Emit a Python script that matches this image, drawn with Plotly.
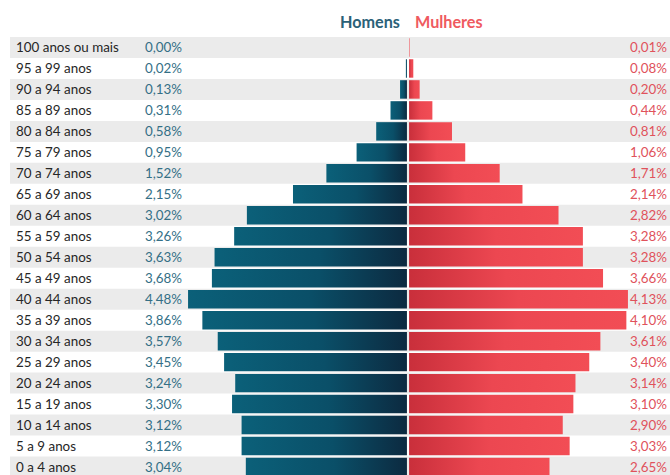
import plotly.graph_objects as go

ages = ["100 anos ou mais", "95 a 99 anos", "90 a 94 anos", "85 a 89 anos", "80 a 84 anos",
        "75 a 79 anos", "70 a 74 anos", "65 a 69 anos", "60 a 64 anos", "55 a 59 anos",
        "50 a 54 anos", "45 a 49 anos", "40 a 44 anos", "35 a 39 anos", "30 a 34 anos",
        "25 a 29 anos", "20 a 24 anos", "15 a 19 anos", "10 a 14 anos", "5 a 9 anos", "0 a 4 anos"]
# bar lengths as drawn in the picture (%)
men = [0.00, 0.02, 0.13, 0.31, 0.58, 0.95, 1.52, 2.15, 3.02, 3.26, 3.63, 3.68, 4.13,
       3.86, 3.57, 3.45, 3.24, 3.30, 3.12, 3.12, 3.04]
women = [0.01, 0.08, 0.20, 0.44, 0.81, 1.06, 1.71, 2.14, 2.82, 3.28, 3.28, 3.66, 4.13,
         4.10, 3.61, 3.40, 3.14, 3.10, 2.90, 3.03, 2.65]
# printed labels
men_labels = ["0,00%", "0,02%", "0,13%", "0,31%", "0,58%", "0,95%", "1,52%", "2,15%", "3,02%",
              "3,26%", "3,63%", "3,68%", "4,48%", "3,86%", "3,57%", "3,45%", "3,24%", "3,30%",
              "3,12%", "3,12%", "3,04%"]
women_labels = ["0,01%", "0,08%", "0,20%", "0,44%", "0,81%", "1,06%", "1,71%", "2,14%", "2,82%",
                "3,28%", "3,28%", "3,66%", "4,13%", "4,10%", "3,61%", "3,40%", "3,14%", "3,10%",
                "2,90%", "3,03%", "2,65%"]

W, H = 670, 475
PX_PER_PCT = 53.0
CENTER_PX = 408
ROW_PX = 21
TOP_PX = 36.5
GAP = 0.02
HALF = 0.44

x_left = -CENTER_PX / PX_PER_PCT
x_right = (W - CENTER_PX) / PX_PER_PCT
y_bottom = -0.5 + (H - TOP_PX) / ROW_PX

FONT = "Lato"
MEN_SCALE = [[0, "#0b6079"], [0.55, "#0a4f68"], [1, "#0c2a40"]]
WOMEN_SCALE = [[0, "#c92f3b"], [0.5, "#ec4751"], [1, "#f24d55"]]

fig = go.Figure()

shapes = []
for i in range(len(ages)):
    if i % 2 == 0:
        shapes.append(dict(type="rect", xref="paper", yref="y", x0=10 / W, x1=1,
                           y0=i - 0.5, y1=i + 0.5, fillcolor="#ebebeb", line_width=0, layer="below"))

for i, (m, w) in enumerate(zip(men, women)):
    if m > 0:
        fig.add_trace(go.Scatter(
            x=[-m - GAP, -GAP, -GAP, -m - GAP, -m - GAP],
            y=[i - HALF, i - HALF, i + HALF, i + HALF, i - HALF],
            mode="lines", line=dict(width=0), fill="toself",
            fillgradient=dict(type="horizontal", colorscale=MEN_SCALE),
            hoverinfo="skip", showlegend=False))
    if w > 0:
        fig.add_trace(go.Scatter(
            x=[GAP, w + GAP, w + GAP, GAP, GAP],
            y=[i - HALF, i - HALF, i + HALF, i + HALF, i - HALF],
            mode="lines", line=dict(width=0), fill="toself",
            fillgradient=dict(type="horizontal", colorscale=WOMEN_SCALE),
            hoverinfo="skip", showlegend=False))

annotations = []
for i, age in enumerate(ages):
    annotations.append(dict(xref="paper", yref="y", x=14 / W, y=i, text=age, showarrow=False,
                            xanchor="left", yanchor="middle",
                            font=dict(family=FONT, size=13.4, color="#262626")))
    annotations.append(dict(xref="paper", yref="y", x=184 / W, y=i, text=men_labels[i],
                            showarrow=False, xanchor="right", yanchor="middle",
                            font=dict(family=FONT, size=13.4, color="#346f86")))
    annotations.append(dict(xref="paper", yref="y", x=669 / W, y=i, text=women_labels[i],
                            showarrow=False, xanchor="right", yanchor="middle",
                            font=dict(family=FONT, size=13.4, color="#e0525b")))

annotations.append(dict(xref="paper", yref="paper", x=402 / W, y=1, yshift=16,
                        text="<b>Homens</b>", showarrow=False, xanchor="right", yanchor="middle",
                        font=dict(family=FONT, size=16.2, color="#2b6178")))
annotations.append(dict(xref="paper", yref="paper", x=413 / W, y=1, yshift=16,
                        text="<b>Mulheres</b>", showarrow=False, xanchor="left", yanchor="middle",
                        font=dict(family=FONT, size=16.2, color="#ef5a60")))

fig.update_layout(
    width=W, height=H,
    margin=dict(l=0, r=0, t=TOP_PX, b=0),
    paper_bgcolor="white", plot_bgcolor="white",
    xaxis=dict(range=[x_left, x_right], visible=False, fixedrange=True),
    yaxis=dict(range=[y_bottom, -0.5], visible=False, fixedrange=True),
    shapes=shapes, annotations=annotations,
    showlegend=False,
)

fig.write_html("out.html", config={"displayModeBar": False},
               post_script="document.body.style.margin='0';document.body.style.overflow='hidden';")
